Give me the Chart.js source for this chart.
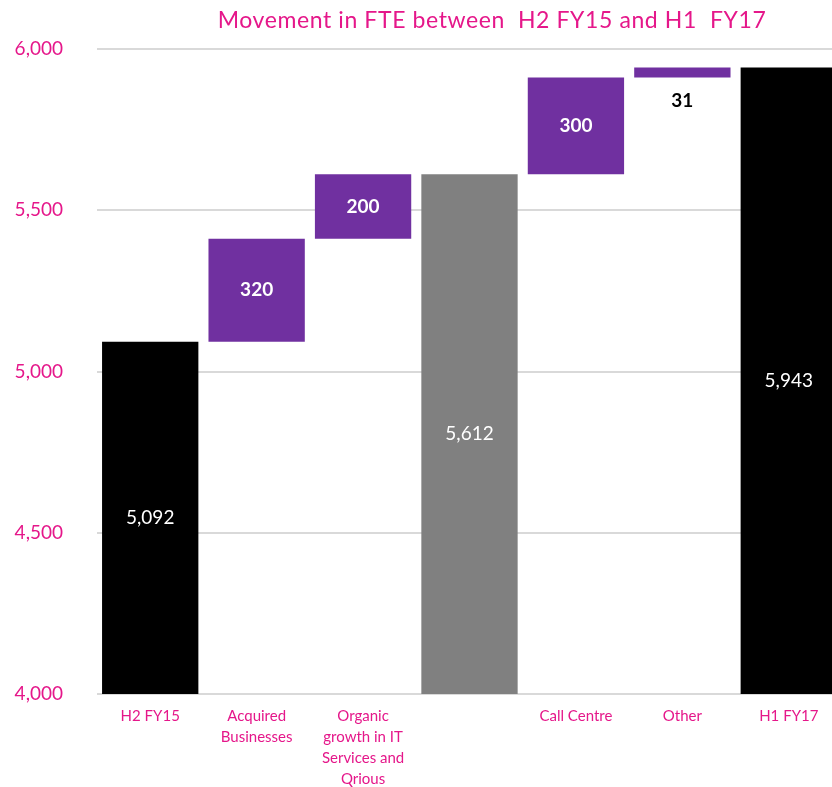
<!DOCTYPE html>
<html lang="en">
<head>
  <meta charset="UTF-8" />
  <title>Movement in FTE between H2 FY15 and H1 FY17</title>
  <script src="https://cdn.jsdelivr.net/npm/chart.js"></script>
  <style>
    html, body {
      margin: 0;
      padding: 0;
      background: #fff;
      overflow: hidden;
    }
    #wrap {
      position: relative;
      width: 842px;
      height: 787px;
    }
    #title {
      position: absolute;
      top: 5px;
      left: 0;
      width: 984px;
      text-align: center;
      font-family: Lato, sans-serif;
      font-size: 23px;
      letter-spacing: 0.6px;
      color: #e5178a;
      white-space: pre;
    }
  </style>
</head>
<body>
  <div id="wrap">
    <div id="title">Movement in FTE between  H2 FY15 and H1  FY17</div>
    <canvas id="fteChart"></canvas>
  </div>

  <script>
    const categories = [
      'H2 FY15',
      ['Acquired', 'Businesses'],
      ['Organic', 'growth in IT', 'Services and', 'Qrious'],
      '',
      'Call Centre',
      'Other',
      'H1 FY17'
    ];
    const values = [5092, 320, 200, 5612, 300, 31, 5943];
    const isTotal = [true, false, false, true, false, false, true];
    const barColors = ['#000000', '#7030a0', '#7030a0', '#808080', '#7030a0', '#7030a0', '#000000'];
    const yTicks = [4000, 4500, 5000, 5500, 6000];

    const pink = '#e5178a';
    const axisMin = 4000;

    // build floating ranges for the waterfall
    let running = 0;
    const ranges = values.map((v, i) => {
      if (isTotal[i]) {
        running = v;
        return [axisMin, v];
      }
      const start = running;
      running += v;
      return [start, running];
    });

    const barLabels = {
      id: 'barLabels',
      afterDatasetsDraw(chart) {
        const ctx = chart.ctx;
        const meta = chart.getDatasetMeta(0);
        ctx.save();
        ctx.textAlign = 'center';
        ctx.textBaseline = 'middle';
        meta.data.forEach((bar, i) => {
          const txt = values[i].toLocaleString('en-US');
          const top = Math.min(bar.y, bar.base);
          const bottom = Math.max(bar.y, bar.base);
          if (bottom - top < 30) {
            ctx.fillStyle = '#000';
            ctx.font = 'bold 19px Lato, sans-serif';
            ctx.fillText(txt, bar.x, bottom + 23);
          } else {
            ctx.fillStyle = '#fff';
            ctx.font = (isTotal[i] ? '' : 'bold ') + '19px Lato, sans-serif';
            ctx.fillText(txt, bar.x, (top + bottom) / 2);
          }
        });
        ctx.restore();
      }
    };

    new Chart(document.getElementById('fteChart'), {
      type: 'bar',
      data: {
        labels: categories,
        datasets: [{
          data: ranges,
          backgroundColor: barColors,
          borderWidth: 0,
          categoryPercentage: 1,
          barPercentage: 0.905
        }]
      },
      options: {
        responsive: true,
        maintainAspectRatio: false,
        animation: false,
        layout: { padding: { top: 49, left: 0, right: 0, bottom: 0 } },
        plugins: {
          legend: { display: false },
          tooltip: { enabled: false }
        },
        scales: {
          x: {
            grid: { display: false },
            border: { display: false },
            ticks: {
              color: pink,
              font: { family: 'Lato, sans-serif', size: 15, lineHeight: 1.4 },
              padding: 4,
              maxRotation: 0,
              autoSkip: false
            },
            afterFit(scale) { scale.height = 93; }
          },
          y: {
            min: 4000,
            max: 6000,
            afterBuildTicks(scale) {
              scale.ticks = yTicks.map(v => ({ value: v }));
            },
            grid: { color: '#d9d9d9', lineWidth: 2, drawTicks: false },
            border: { display: false },
            ticks: {
              color: pink,
              font: { family: 'Lato, sans-serif', size: 19 },
              padding: 34,
              callback: v => v.toLocaleString('en-US')
            },
            afterFit(scale) { scale.width = 97; }
          }
        }
      },
      plugins: [barLabels]
    });
  </script>
</body>
</html>
